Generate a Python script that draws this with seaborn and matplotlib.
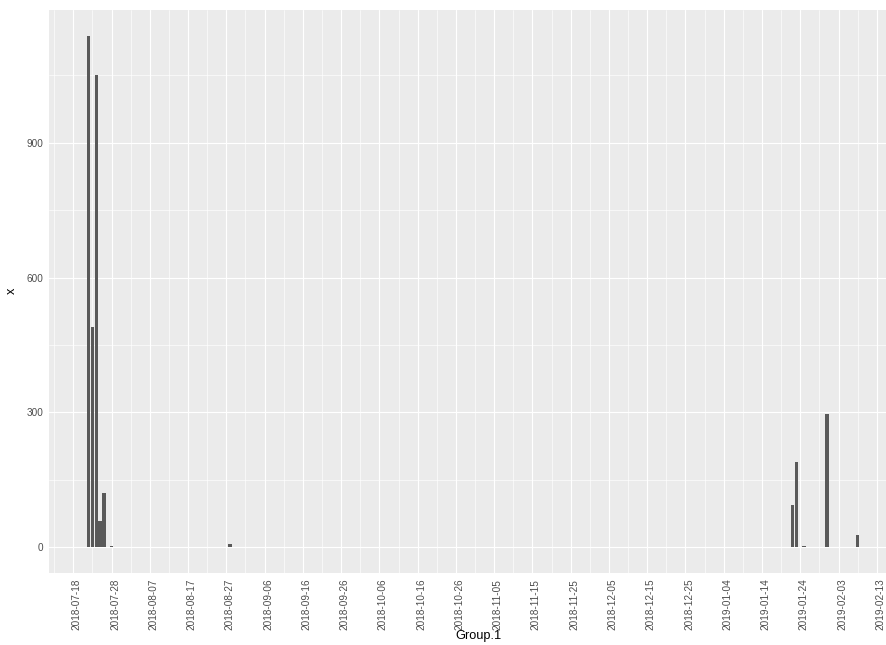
import matplotlib
matplotlib.use("Agg")
import matplotlib.pyplot as plt
import matplotlib.dates as mdates
import matplotlib.ticker as mticker
import matplotlib.transforms as mtrans
import numpy as np
import pandas as pd
import seaborn as sns

# ---- data ----
dates = ["2018-07-22", "2018-07-23", "2018-07-24", "2018-07-25", "2018-07-26",
         "2018-07-28", "2018-08-28", "2019-01-22", "2019-01-23", "2019-01-25",
         "2019-01-31", "2019-02-08"]
values = [1138, 490, 1050, 58, 120, 3, 7, 95, 191, 4, 296, 28]

tick_labels = ["2018-07-18", "2018-07-28", "2018-08-07", "2018-08-17", "2018-08-27",
               "2018-09-06", "2018-09-16", "2018-09-26", "2018-10-06", "2018-10-16",
               "2018-10-26", "2018-11-05", "2018-11-15", "2018-11-25", "2018-12-05",
               "2018-12-15", "2018-12-25", "2019-01-04", "2019-01-14", "2019-01-24",
               "2019-02-03", "2019-02-13"]
y_ticks = [0, 300, 600, 900]

# ---- styling ----
sns.set_theme(style="darkgrid")
plt.rcParams["font.family"] = ["Liberation Sans", "DejaVu Sans"]

W, H = 887, 645
fig = plt.figure(figsize=(W / 100, H / 100), dpi=100)
# panel in pixels (extends a bit beyond the right image edge, like the reference)
left_px, top_px, bottom_px = 49, 10, 573
px_per_day = 3.826
d0 = mdates.date2num(pd.Timestamp("2018-07-18"))
xlim = (d0 - (73.3 - left_px) / px_per_day, d0 + 215.5)
width_px = (xlim[1] - xlim[0]) * px_per_day
ax = fig.add_axes([left_px / W, 1 - bottom_px / H, width_px / W, (bottom_px - top_px) / H])
ax.set_facecolor("#EBEBEB")

df = pd.DataFrame({"Group.1": mdates.date2num(pd.to_datetime(dates)), "x": values})
sns.barplot(data=df, x="Group.1", y="x", native_scale=True, width=0.9,
            color="#595959", saturation=1, errorbar=None, linewidth=0, ax=ax)

ax.set_xlim(*xlim)
ax.set_ylim(-56.9, 1195)

major_x = mdates.date2num(pd.to_datetime(tick_labels))
minor_x = major_x[:-1] + 5
minor_x = np.concatenate([[major_x[0] - 5], minor_x, [major_x[-1] + 5]])
ax.xaxis.set_major_locator(mticker.FixedLocator(major_x))
ax.xaxis.set_major_formatter(mticker.FixedFormatter(tick_labels))
ax.xaxis.set_minor_locator(mticker.FixedLocator(minor_x))
ax.yaxis.set_major_locator(mticker.FixedLocator(y_ticks))
ax.yaxis.set_minor_locator(mticker.FixedLocator([150, 450, 750, 1050]))

ax.grid(which="major", color="white", linewidth=0.85)
ax.grid(which="minor", color="white", linewidth=0.45)
ax.set_axisbelow(True)
for s in ax.spines.values():
    s.set_visible(False)

ax.tick_params(axis="both", which="major", length=2.3, width=0.8, color="#333333",
               labelcolor="#4D4D4D", labelsize=7.2, pad=1.8)
ax.tick_params(axis="both", which="minor", length=0)
ax.tick_params(axis="x", which="major", labelrotation=90)
shift = mtrans.ScaledTranslation(3.5 / 100, 0, fig.dpi_scale_trans)
for lab in ax.get_xticklabels():
    lab.set_ha("center")
    lab.set_va("top")
    lab.set_transform(lab.get_transform() + shift)

ax.set_xlabel("")
ax.set_ylabel("")
fig.text(478 / W, 1 - 636 / H, "Group.1", ha="center", va="center", fontsize=9.2, color="black")
fig.text(12 / W, 1 - 291 / H, "x", ha="center", va="center", rotation=90, fontsize=9.2, color="black")

fig.savefig("out.png", dpi=100)
